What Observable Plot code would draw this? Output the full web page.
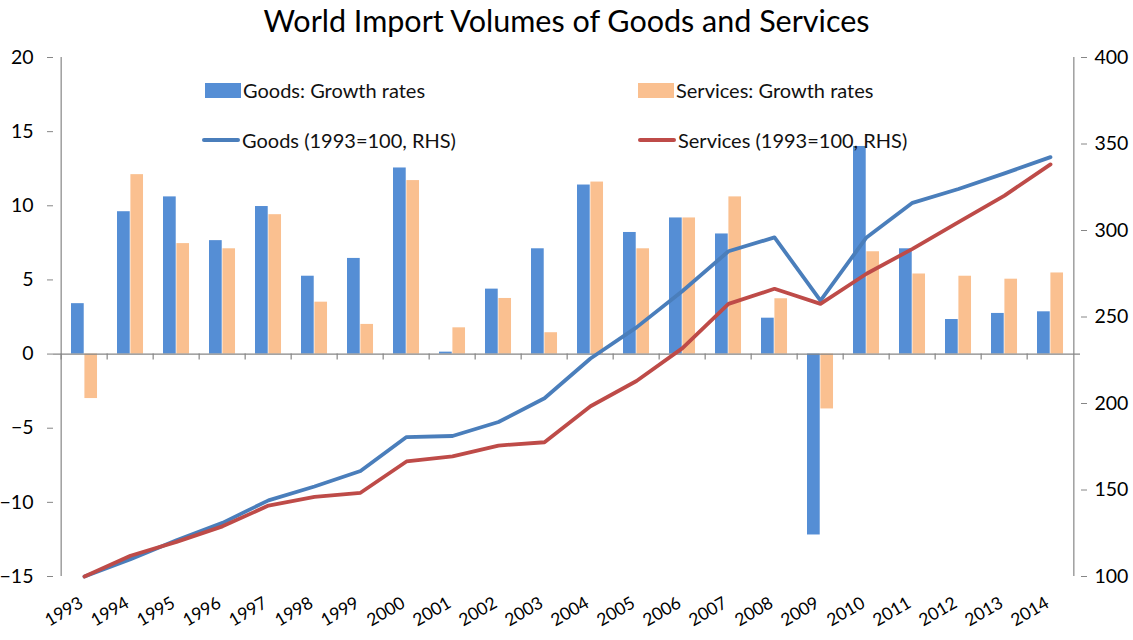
<!DOCTYPE html>
<html><head><meta charset="utf-8">
<script src="https://cdn.jsdelivr.net/npm/d3@7"></script>
<script src="https://cdn.jsdelivr.net/npm/@observablehq/plot@0.6"></script>
<style>
body{margin:0;background:#fff;font-family:Lato,"Open Sans",sans-serif;}
#wrap{position:relative;width:1133px;height:640px;overflow:hidden;}
#title{height:40px;line-height:40px;text-align:center;font-size:30.5px;color:#000;}
.leg{position:absolute;font-size:20px;display:flex;align-items:center;color:#111;height:24px;white-space:nowrap;}
.sw{display:inline-block;width:36px;height:15px;margin-right:2px;}
.ln{display:inline-block;width:38px;height:4px;margin-right:2px;border-radius:2px;}
</style></head>
<body><div id="wrap"><div id="title">World Import Volumes of Goods and Services</div></div>
<script>
const years = [1993,1994,1995,1996,1997,1998,1999,2000,2001,2002,2003,2004,2005,2006,2007,2008,2009,2010,2011,2012,2013,2014];
const goodsGrowth    = [3.4, 9.6, 10.6, 7.65, 9.95, 5.25, 6.45, 12.55, 0.13, 4.38, 7.1, 11.4, 8.2, 9.18, 8.1, 2.42, -12.2, 14.0, 7.1, 2.33, 2.74, 2.85];
const servicesGrowth = [-3.0, 12.1, 7.45, 7.1, 9.4, 3.5, 2.0, 11.7, 1.77, 3.75, 1.44, 11.6, 7.1, 9.18, 10.6, 3.73, -3.7, 6.9, 5.4, 5.25, 5.05, 5.47];
const goodsIndex     = [100, 110, 121, 131, 144, 152, 161, 180.6, 181.2, 189.3, 203, 226, 244, 265, 288, 296, 259.5, 296, 316, 324, 333, 342.4];
const servicesIndex  = [100, 112, 120, 129, 141, 146, 148.4, 166.5, 169.4, 175.7, 177.6, 198.4, 213, 232, 257.6, 266.3, 257.6, 275, 289.4, 304.8, 320.2, 338.2];
const leftTicks  = [-15, -10, -5, 0, 5, 10, 15, 20];
const rightTicks = [100, 150, 200, 250, 300, 350, 400];
const legendItems = [
  {label: "Goods: Growth rates", kind: "bar", color: "#558ED5"},
  {label: "Services: Growth rates", kind: "bar", color: "#FAC090"},
  {label: "Goods (1993=100, RHS)", kind: "line", color: "#4A7EBB"},
  {label: "Services (1993=100, RHS)", kind: "line", color: "#BE4B48"}
];

const W = 1133, H = 600, mL = 53, mR = 53, mT = 17, mB = 64;
const leftDomain = [-15, 20], rightDomain = [100, 400];
const toLeft = v => (v - rightDomain[0]) / (rightDomain[1] - rightDomain[0]) * (leftDomain[1] - leftDomain[0]) + leftDomain[0];
const toRight = v => Math.round((v - leftDomain[0]) / (leftDomain[1] - leftDomain[0]) * (rightDomain[1] - rightDomain[0]) + rightDomain[0]);
const bw = (W - mL - mR) / years.length;
const pxPerUnit = (H - mT - mB) / (leftDomain[1] - leftDomain[0]);
const axisGray = "#868686";

const goodsRows = years.map((y, i) => ({year: y, value: goodsGrowth[i]}));
const servRows = years.map((y, i) => ({year: y, value: servicesGrowth[i]}));
const goodsLine = years.map((y, i) => ({year: y, value: toLeft(goodsIndex[i])}));
const servLine = years.map((y, i) => ({year: y, value: toLeft(servicesIndex[i])}));

const chart = Plot.plot({
  width: W, height: H,
  marginLeft: mL, marginRight: mR, marginTop: mT, marginBottom: mB,
  style: {fontFamily: "Lato, 'Open Sans', sans-serif", color: "#000", background: "#fff"},
  x: {type: "band", domain: years, padding: 0, axis: null},
  y: {domain: leftDomain, axis: null},
  marks: [
    Plot.barY(goodsRows, {x: "year", y: "value", fill: "#558ED5", insetLeft: 10, insetRight: bw - 23.4}),
    Plot.barY(servRows, {x: "year", y: "value", fill: "#FAC090", insetLeft: 23.4, insetRight: bw - 36.7}),
    Plot.ruleY([0], {stroke: axisGray, strokeWidth: 1.2}),
    Plot.ruleX(years, {x: d => d, dx: -bw / 2, y1: 0, y2: -6 / pxPerUnit, stroke: axisGray, strokeWidth: 1.2}),
    Plot.ruleX([years[0]], {x: d => d, dx: -bw / 2, y1: leftDomain[0], y2: leftDomain[1], stroke: axisGray, strokeWidth: 1.2}),
    Plot.ruleX([years[years.length - 1]], {x: d => d, dx: bw / 2, y1: leftDomain[0], y2: leftDomain[1], stroke: axisGray, strokeWidth: 1.2}),
    Plot.line(goodsLine, {x: "year", y: "value", stroke: "#4A7EBB", strokeWidth: 3.8}),
    Plot.line(servLine, {x: "year", y: "value", stroke: "#BE4B48", strokeWidth: 3.8}),
    Plot.axisY({anchor: "left", ticks: leftTicks, tickSize: 6, tickPadding: 14, fontSize: 19.5, stroke: axisGray, color: "#000", label: null}),
    Plot.axisY({anchor: "right", ticks: rightTicks.map(toLeft), tickFormat: toRight, tickSize: 6, tickPadding: 8, fontSize: 19.5, stroke: axisGray, label: null}),
    Plot.axisX({anchor: "bottom", tickSize: 0, tickPadding: 25, tickRotate: -30, fontSize: 17.5, dx: -3, tickFormat: d => String(d), label: null})
  ]
});
chart.style.display = "block";
const wrap = document.getElementById("wrap");
wrap.appendChild(chart);

const legPos = [[205, 78], [638, 78], [202, 128], [638, 128]];
legendItems.forEach((it, i) => {
  const d = document.createElement("div");
  d.className = "leg";
  d.style.left = legPos[i][0] + "px";
  d.style.top = legPos[i][1] + "px";
  const s = document.createElement("span");
  s.className = it.kind === "bar" ? "sw" : "ln";
  s.style.background = it.color;
  d.appendChild(s);
  d.appendChild(document.createTextNode(it.label));
  wrap.appendChild(d);
});
</script>
</body></html>
